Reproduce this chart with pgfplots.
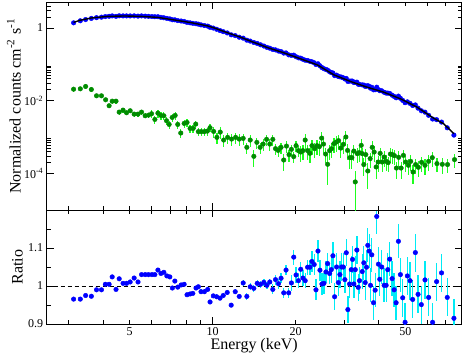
\documentclass[border=0pt]{standalone}
\usepackage{fontspec}
\setmainfont{Liberation Serif}
\usepackage{pgfplots}
\usepackage{pgfplotstable}
\pgfplotsset{compat=1.18}

\definecolor{dblue}{RGB}{0,0,255}
\definecolor{dgreen}{RGB}{0,140,0}
\definecolor{lgreen}{RGB}{30,255,30}
\definecolor{ecyan}{RGB}{0,235,245}

% source spectrum: energy, data, ratio, ratio error
\pgfplotstableread{
E d r re
3.13 1.382 0.9655 0.004
3.31 1.574 0.9655 0.004
3.46 1.702 0.975 0.004
3.63 1.829 0.973 0.004
3.79 1.918 0.990 0.004
3.95 1.977 0.990 0.004
4.08 2.055 1.0045 0.004
4.21 2.093 1.0045 0.004
4.32 2.144 1.024 0.004
4.46 2.086 0.991 0.004
4.58 2.157 1.019 0.004
4.73 2.143 1.007 0.004
4.87 2.141 1.007 0.004
5.02 2.137 1.0106 0.004
5.19 2.146 1.021 0.004
5.36 2.113 1.0106 0.004
5.52 2.140 1.030 0.004
5.69 2.110 1.030 0.004
5.85 2.083 1.030 0.004
6.02 2.056 1.030 0.004
6.17 2.032 1.030 0.004
6.33 2.033 1.042 0.004
6.49 1.957 1.033 0.004
6.65 1.905 1.036 0.004
6.82 1.832 1.0265 0.004
6.99 1.774 1.024 0.004
7.14 1.680 0.9947 0.004
7.29 1.671 1.013 0.004
7.47 1.595 0.997 0.004
7.68 1.551 1.0027 0.004
7.88 1.507 1.0045 0.004
8.07 1.421 0.977 0.004
8.28 1.382 0.979 0.004
8.47 1.341 0.9805 0.004
8.70 1.305 0.9947 0.004
8.87 1.273 0.998 0.004
9.07 1.215 0.985 0.006
9.33 1.166 0.985 0.006
9.59 1.125 0.991 0.006
9.78 1.041 0.958 0.006
10.05 0.993 0.974 0.006
10.34 0.919 0.9717 0.006
10.63 0.848 0.968 0.006
10.92 0.791 0.975 0.006
11.29 0.730 0.983 0.006
11.67 0.648 0.9496 0.006
12.07 0.615 0.985 0.006
12.48 0.557 0.9726 0.006
12.90 0.525 1.008 0.009
13.30 0.462 0.9726 0.009
13.68 0.436 0.998 0.009
14.10 0.399 0.9938 0.009
14.50 0.375 1.007 0.009
14.91 0.345 1.0045 0.009
15.33 0.319 1.0097 0.009
15.72 0.294 1.0018 0.009
16.11 0.278 1.0106 0.009
16.52 0.257 0.991 0.013
16.90 0.250 1.0168 0.013
17.32 0.2326 1.006 0.013
17.70 0.224 1.0204 0.013
18.10 0.204 0.982 0.013
18.45 0.206 1.042 0.013
18.87 0.1824 0.982 0.013
19.30 0.1761 1.008 0.02
19.68 0.179 1.076 0.02
20.06 0.1621 1.029 0.02
20.46 0.1513 1.014 0.02
20.86 0.1480 1.044 0.02
21.24 0.1381 1.021 0.02
21.65 0.1302 1.014 0.02
22.09 0.1277 1.0495 0.02
22.52 0.1212 1.0495 0.02
22.91 0.1176 1.0645 0.028
23.34 0.1107 1.0566 0.028
23.69 0.0990 0.990 0.028
24.09 0.1038 1.092 0.028
24.49 0.0914 1.0416 0.028
24.90 0.0817 1.0053 0.028
25.32 0.0759 1.007 0.028
25.75 0.0725 1.037 0.028
26.11 0.0694 1.059 0.028
26.55 0.0627 1.033 0.028
26.93 0.0594 1.043 0.036
27.29 0.0580 1.0796 0.036
27.68 0.0492 0.9717 0.036
28.14 0.0506 1.050 0.036
28.55 0.0465 1.009 0.036
28.93 0.0456 1.030 0.036
29.34 0.0446 1.050 0.036
29.76 0.0427 1.050 0.036
30.16 0.0397 1.0168 0.036
30.51 0.0411 1.0875 0.036
30.92 0.0340 0.938 0.036
31.36 0.0348 1.0053 0.036
31.81 0.0348 1.043 0.036
32.15 0.0346 1.070 0.036
32.51 0.0317 1.0053 0.036
32.89 0.0319 1.043 0.036
33.33 0.0325 1.0946 0.036
33.72 0.0285 0.9965 0.036
34.08 0.0282 1.014 0.036
34.86 0.0273 1.038 0.045
35.33 0.0270 1.061 0.045
35.74 0.0249 1.009 0.045
36.13 0.0252 1.0495 0.045
36.52 0.0260 1.107 0.045
36.95 0.0249 1.092 0.045
37.35 0.0222 1.0018 0.045
37.76 0.0235 1.082 0.045
38.30 0.0200 0.956 0.045
38.84 0.0201 0.989 0.045
39.36 0.0236 1.183 0.045
39.92 0.0202 1.0575 0.045
40.36 0.0189 1.0177 0.045
41.03 0.0188 1.050 0.045
41.86 0.0171 1.0018 0.045
42.57 0.01625 1.0018 0.045
43.14 0.01626 1.043 0.045
43.86 0.0159 1.0707 0.045
44.75 0.01423 1.0195 0.045
45.50 0.01315 0.990 0.045
46.26 0.01209 0.956 0.045
47.16 0.01342 1.1176 0.045
47.95 0.01169 1.030 0.045
48.88 0.01023 0.969 0.05
49.86 0.00885 0.9045 0.05
50.83 0.00934 1.0265 0.05
51.98 0.00846 1.014 0.05
53.12 0.00742 0.9646 0.05
54.33 0.00770 1.088 0.05
55.56 0.00627 0.978 0.05
57.11 0.00531 0.951 0.05
58.89 0.00486 1.016 0.05
60.69 0.00399 0.970 0.05
62.74 0.00315 0.9045 0.05
64.87 0.00303 1.0115 0.05
67.62 0.00260 1.0345 0.05
70.91 0.00181 0.970 0.05
74.98 0.00114 0.915 0.05
}\bluedata

% model curve
\pgfplotstableread{
E m
3.13 1.422
3.29 1.614
3.63 1.879
4.17 2.080
4.79 2.133
5.50 2.080
6.33 1.950
7.26 1.656
8.35 1.396
9.59 1.135
10.13 1.000
11.01 0.7925
12.66 0.552
13.76 0.4295
14.74 0.3556
15.81 0.2884
18.15 0.2065
20.86 0.1416
23.97 0.0968
27.52 0.0515
31.62 0.0338
36.34 0.0236
41.72 0.01722
47.95 0.01135
55.10 0.00668
63.26 0.00333
68.76 0.00234
74.98 0.00125
}\modeldata

% background spectrum: energy, data, error
\pgfplotstableread{
E g ge
3.13 0.0208 0.0031
3.31 0.0213 0.0032
3.46 0.0247 0.0037
3.63 0.0204 0.0031
3.79 0.0137 0.0021
3.95 0.0137 0.0021
4.09 0.01064 0.0016
4.21 0.0073 0.0011
4.32 0.00975 0.0015
4.46 0.00975 0.0015
4.58 0.00488 0.0007
4.73 0.00553 0.0008
4.87 0.00469 0.0007
5.02 0.00532 0.0008
5.19 0.0043 0.00065
5.36 0.0043 0.00065
5.52 0.00488 0.0007
5.69 0.00388 0.0006
5.85 0.00403 0.0006
6.00 0.0044 0.0011
6.17 0.00307 0.00077
6.33 0.00457 0.0011
6.49 0.00396 0.001
6.65 0.00388 0.001
6.80 0.00283 0.0007
6.95 0.00224 0.00056
7.13 0.00349 0.00087
7.31 0.00396 0.001
7.47 0.00224 0.00056
7.66 0.0013 0.00033
7.88 0.00239 0.0006
8.07 0.00254 0.00064
8.28 0.00174 0.00044
8.49 0.00174 0.00044
8.68 0.00229 0.00057
8.87 0.00142 0.00036
9.09 0.00142 0.00036
9.33 0.00142 0.00036
9.56 0.00147 0.00037
9.78 0.00182 0.00046
10.08 0.00144 0.0005
10.36 0.000988 0.00035
10.65 0.00138 0.00048
10.96 0.000834 0.00029
11.33 0.000988 0.00035
11.71 0.000888 0.00031
12.11 0.000988 0.00035
12.48 0.000888 0.00031
12.90 0.000927 0.00032
13.30 0.000526 0.00018
13.68 0.000834 0.00029
14.10 0.000298 0.00015
14.46 0.000721 0.00025
14.86 0.000526 0.00018
15.24 0.000647 0.00023
15.68 0.000871 0.0003
16.11 0.000647 0.00023
16.52 0.000871 0.0003
16.90 0.000484 0.00017
17.27 0.000434 0.00015
17.70 0.000526 0.00018
18.10 0.000236 0.00012
18.52 0.00057 0.0002
18.92 0.000332 0.00012
19.30 0.000463 0.00016
19.68 0.000292 0.0001
20.06 0.000585 0.0002
20.46 0.000427 0.00015
20.86 0.000391 0.00018
21.24 0.000427 0.00019
21.65 0.000834 0.00038
22.09 0.000427 0.00019
22.52 0.00036 0.00016
22.91 0.000585 0.00026
23.43 0.000484 0.00022
23.89 0.000585 0.00026
24.37 0.00055 0.00025
24.84 0.000944 0.00042
25.23 0.000647 0.00029
25.68 0.000344 0.00015
26.11 0.00018 0.00013
26.55 0.000427 0.00019
27.00 0.000484 0.00022
27.52 0.000664 0.0003
28.07 0.000734 0.00033
28.61 0.000802 0.00036
29.17 0.000503 0.00023
29.76 0.000635 0.00029
30.41 0.00101 0.00045
30.84 0.000434 0.0002
31.44 0.000274 0.00014
31.97 0.000274 0.00014
32.51 0.000416 0.00019
32.89 0.000059 0.000058
33.44 0.000353 0.00016
34.00 0.000376 0.00017
34.57 0.000596 0.00027
34.86 0.000353 0.00016
35.33 0.000177 0.00009
35.92 0.000332 0.00015
36.52 0.000118 0.00008
37.26 0.000258 0.00012
37.89 0.000526 0.00024
38.52 0.000391 0.00018
39.17 0.000152 0.00008
39.83 0.000208 0.0001
40.49 0.00036 0.00016
41.17 0.000208 0.0001
41.86 0.000285 0.00013
42.57 0.000217 0.0001
43.28 0.0002 0.00009
44.12 0.000344 0.00015
44.86 0.000332 0.00015
45.61 0.000311 0.00014
46.38 0.000142 0.00007
47.28 0.00028 0.00013
48.23 0.000142 0.00007
49.16 0.000317 0.00014
50.11 0.000208 0.0001
51.25 0.000169 0.00008
52.24 0.000217 0.0001
53.29 0.000111 0.00006
54.46 0.000177 0.00008
55.70 0.000149 0.00007
57.25 0.000204 0.00009
58.89 0.000169 0.00008
60.69 0.000217 0.0001
62.58 0.000274 0.00012
65.08 0.000188 0.00008
68.02 0.00018 0.00008
71.09 0.000177 0.00007
75.35 0.000242 0.0001
}\greendata

\begin{document}
\begin{tikzpicture}
% ratio panel
\begin{axis}[name=bot, at={(0,0)}, anchor=south west,
  scale only axis, width=415pt, height=114pt,
  xmode=log, xmin=2.5, xmax=80, ymin=0.9, ymax=1.2,
  axis line style={line width=0.9pt},
  tick style={line width=0.9pt, black},
  major tick length=7pt, minor tick length=4pt,
  tick align=inside, xtick pos=both, ytick pos=both,
  xtick={10}, xticklabels={10},
  minor xtick={3,4,6,7,8,9,30,40,60,70},
  extra x ticks={5,20,50}, extra x tick labels={5,20,50},
  extra x tick style={major tick length=4pt},
  ytick={0.9,1,1.1}, yticklabels={0.9,1,1.1},
  minor ytick={0.95,1.05,1.15},
  tick label style={font=\fontsize{12}{14}\selectfont},
  label style={font=\fontsize{16}{18}\selectfont},
  xlabel={Energy (keV)},
  xlabel style={at={(axis description cs:0.5,-0.228)}, anchor=base},
  ylabel={Ratio},
  ylabel style={at={(axis description cs:-0.0704,0.5)}, anchor=center},
]
\addplot[black, line width=1pt, dash pattern=on 4pt off 3pt] coordinates {(2.5,1) (80,1)};
\addplot[only marks, mark=*, mark size=2.3pt, color=dblue,
  error bars/.cd, y dir=both, y explicit, error mark=none,
  error bar style={ecyan, line width=1.3pt}]
  table[x=E, y=r, y error=re] {\bluedata};
\end{axis}
% spectrum panel
\begin{axis}[name=top, at={(0,114pt)}, anchor=south west,
  scale only axis, width=415pt, height=207.5pt,
  clip marker paths=true,
  xmode=log, xmin=2.5, xmax=80,
  ymode=log, ymin=1e-5, ymax=5,
  axis line style={line width=0.9pt},
  tick style={line width=0.9pt, black},
  major tick length=7pt, minor tick length=4pt,
  tick align=inside, xtick pos=both, ytick pos=both,
  xtick={10}, xticklabels={},
  minor xtick={3,4,6,7,8,9,30,40,60,70},
  extra x ticks={5,20,50}, extra x tick labels={},
  extra x tick style={major tick length=4pt},
  ytick={1e-4,1e-2,1},
  yticklabels={10\textsuperscript{-4},10\textsuperscript{-2},1},
  minor ytick={2e-4,3e-4,4e-4,5e-4,6e-4,7e-4,8e-4,9e-4,
    0.02,0.03,0.04,0.05,0.06,0.07,0.08,0.09,2,3,4},
  tick label style={font=\fontsize{12}{14}\selectfont},
  label style={font=\fontsize{16}{18}\selectfont},
  ylabel={Normalized counts cm\textsuperscript{-2} s\textsuperscript{-1}},
  ylabel style={at={(axis description cs:-0.079,0.5)}, anchor=center},
]
\addplot[only marks, mark=*, mark size=2.3pt, color=dgreen,
  error bars/.cd, y dir=both, y explicit, error mark=none,
  error bar style={lgreen, line width=1.2pt}]
  table[x=E, y=g, y error=ge] {\greendata};
\addplot[only marks, mark=*, mark size=2.3pt, color=dblue] table[x=E, y=d] {\bluedata};
\addplot[black, line width=1.4pt] table[x=E, y=m] {\modeldata};
\end{axis}
\pgfresetboundingbox
\path[use as bounding box] (-46.7pt,-32pt) rectangle (416.3pt,324pt);
\end{tikzpicture}
\end{document}
